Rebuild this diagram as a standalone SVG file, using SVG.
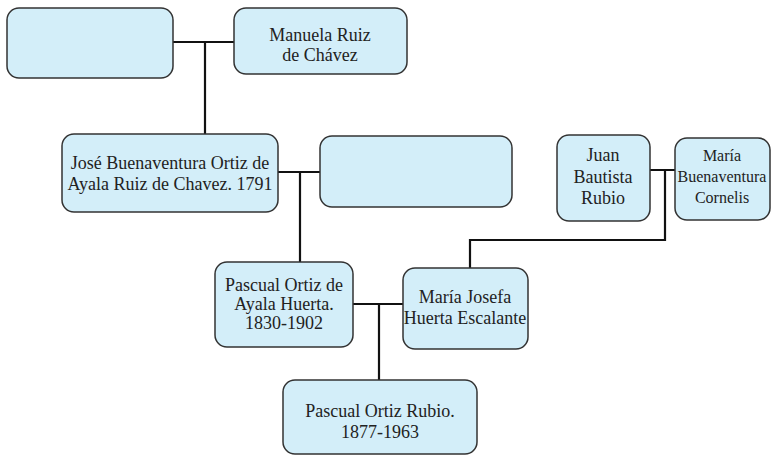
<svg xmlns="http://www.w3.org/2000/svg" width="771" height="457" viewBox="0 0 771 457">
<style>
.box{fill:#d3eef9;stroke:#333;stroke-width:1.5}
.t{font-family:"Liberation Serif",serif;font-size:18px;fill:#222;text-anchor:middle}
.s{font-size:16px}
.c{fill:none;stroke:#111;stroke-width:2.2}
</style>
<rect width="771" height="457" fill="#fff"/>
<g id="connectors">
<path class="c" d="M173 42H234M205 42V134"/>
<path class="c" d="M278 172H320M300 172V262"/>
<path class="c" d="M650 170H675M665 170V240H470V268"/>
<path class="c" d="M353 304H403M379 304V380"/>
</g>
<g id="n1"><rect class="box" x="7" y="8" width="166" height="70" rx="12"/></g>
<g id="n2"><rect class="box" x="234" y="8" width="173" height="66" rx="12"/>
<text class="t" x="320" y="41">Manuela Ruiz</text><text class="t" x="320" y="61">de Chávez</text></g>
<g id="n3"><rect class="box" x="62" y="134" width="216" height="78" rx="12"/>
<text class="t" x="170" y="169">José Buenaventura Ortiz de</text><text class="t" x="170" y="190">Ayala Ruiz de Chavez. 1791</text></g>
<g id="n4"><rect class="box" x="320" y="136" width="192" height="71" rx="12"/></g>
<g id="n5"><rect class="box" x="557" y="135" width="93" height="86" rx="12"/>
<text class="t" x="603" y="161">Juan</text><text class="t" x="603" y="183">Bautista</text><text class="t" x="603" y="204">Rubio</text></g>
<g id="n6"><rect class="box" x="675" y="138" width="95" height="82" rx="12"/>
<text class="t s" x="722" y="161">María</text><text class="t s" x="722" y="182">Buenaventura</text><text class="t s" x="722" y="203">Cornelis</text></g>
<g id="n7"><rect class="box" x="215" y="262" width="138" height="85" rx="12"/>
<text class="t" x="284" y="291">Pascual Ortiz de</text><text class="t" x="284" y="310">Ayala Huerta.</text><text class="t" x="284" y="329">1830-1902</text></g>
<g id="n8"><rect class="box" x="403" y="268" width="125" height="81" rx="12"/>
<text class="t" x="465" y="303">María Josefa</text><text class="t" x="465" y="324">Huerta Escalante</text></g>
<g id="n9"><rect class="box" x="283" y="380" width="194" height="74" rx="12"/>
<text class="t" x="380" y="417">Pascual Ortiz Rubio.</text><text class="t" x="380" y="438">1877-1963</text></g>
</svg>
